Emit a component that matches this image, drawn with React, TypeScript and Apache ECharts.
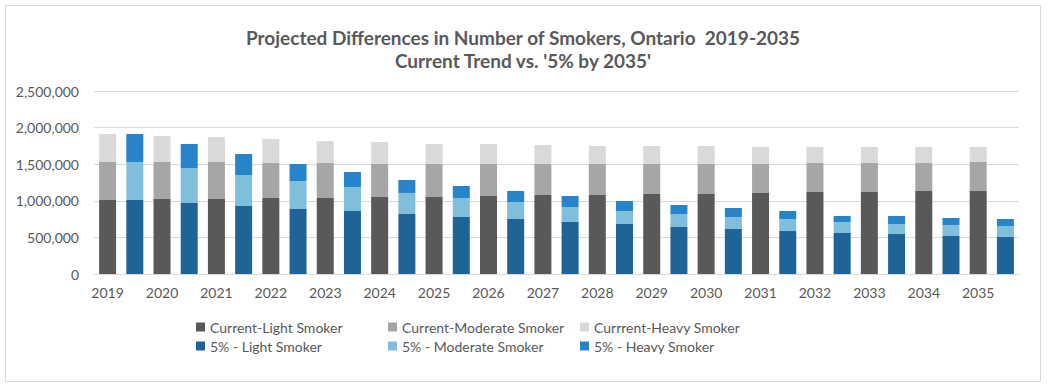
import React, { useEffect, useRef } from "react";
import * as echarts from "echarts";

const years = ["2019","2020","2021","2022","2023","2024","2025","2026","2027","2028","2029","2030","2031","2032","2033","2034","2035"];
const curLight = [1011000,1025000,1025000,1038000,1038000,1052000,1052000,1066000,1079000,1079000,1093000,1093000,1107000,1120000,1120000,1134000,1134000];
const curModerate = [519000,505000,505000,478000,478000,451000,451000,437000,424000,424000,410000,410000,396000,396000,396000,382000,396000];
const curHeavy = [383000,355000,342000,328000,300000,300000,273000,273000,259000,246000,246000,246000,232000,219000,219000,219000,205000];
const pctLight = [1011000,970000,929000,888000,861000,820000,779000,751000,710000,683000,642000,615000,587000,560000,546000,519000,505000];
const pctModerate = [519000,478000,423000,382000,328000,287000,259000,233000,205000,178000,178000,164000,164000,150000,137000,150000,151000];
const pctHeavy = [383000,328000,287000,233000,204000,177000,164000,150000,151000,136000,123000,123000,110000,82000,109000,96000,95000];
const yTicks = { min: 0, max: 2500000, interval: 500000 };

const seriesNames = [
  "Current-Light Smoker",
  "Current-Moderate Smoker",
  "Currrent-Heavy Smoker",
  "5% - Light Smoker",
  "5% - Moderate Smoker",
  "5% - Heavy Smoker",
];
const colors = ["#595959", "#a6a6a6", "#d9d9d9", "#1f6397", "#7fbfdb", "#2784c8"];

const FONT = "Lato, 'Noto Sans', sans-serif";
const TXT = "#595959";

export default function App() {
  const ref = useRef<HTMLDivElement>(null);
  useEffect(() => {
    if (!ref.current) return;
    const chart = echarts.init(ref.current, null, { renderer: "svg" });
    const cats: string[] = [];
    years.forEach((y) => {
      cats.push(y);
      cats.push("");
    });
    const spread = (arr: number[], offset: number) => {
      const out: (number | string)[] = [];
      arr.forEach((v) => {
        if (offset === 0) {
          out.push(v);
          out.push("-");
        } else {
          out.push("-");
          out.push(v);
        }
      });
      return out;
    };
    const dataSets = [
      spread(curLight, 0),
      spread(curModerate, 0),
      spread(curHeavy, 0),
      spread(pctLight, 1),
      spread(pctModerate, 1),
      spread(pctHeavy, 1),
    ];
    const legendPos = [
      { left: 196, top: 320 },
      { left: 388, top: 320 },
      { left: 580, top: 320 },
      { left: 196, top: 339 },
      { left: 388, top: 339 },
      { left: 580, top: 339 },
    ];
    chart.setOption({
      animation: false,
      textStyle: { fontFamily: FONT },
      grid: { left: 94, right: 35, top: 91, bottom: 113 },
      legend: seriesNames.map((n, i) => ({
        data: [n],
        left: legendPos[i].left,
        top: legendPos[i].top,
        padding: 0,
        icon: "rect",
        itemWidth: 9,
        itemHeight: 9,
        selectedMode: false,
        textStyle: { color: TXT, fontSize: 14, fontFamily: FONT },
      })),
      graphic: [
        {
          type: "rect",
          shape: { x: 5.5, y: 5.5, width: 1035, height: 376 },
          style: { fill: "none", stroke: "#d9d9d9", lineWidth: 1 },
          silent: true,
        },
        {
          type: "text",
          x: 523,
          y: 37,
          style: {
            text: "Projected Differences in Number of Smokers, Ontario  2019-2035",
            fill: TXT,
            font: `bold 19px ${FONT}`,
            textAlign: "center",
            textVerticalAlign: "middle",
          },
        },
        {
          type: "text",
          x: 523,
          y: 60,
          style: {
            text: "Current Trend vs. '5% by 2035'",
            fill: TXT,
            font: `bold 19px ${FONT}`,
            textAlign: "center",
            textVerticalAlign: "middle",
          },
        },
      ],
      xAxis: {
        type: "category",
        data: cats,
        axisTick: { show: false },
        axisLine: { lineStyle: { color: "#d9d9d9" } },
        axisLabel: { interval: 0, color: TXT, fontSize: 14, margin: 11, fontFamily: FONT },
      },
      yAxis: {
        type: "value",
        min: yTicks.min,
        max: yTicks.max,
        interval: yTicks.interval,
        axisLine: { show: false },
        axisTick: { show: false },
        splitLine: { lineStyle: { color: "#d9d9d9" } },
        axisLabel: {
          color: TXT,
          fontSize: 14,
          margin: 15,
          fontFamily: FONT,
          formatter: (v: number) => v.toLocaleString("en-US"),
        },
      },
      series: seriesNames.map((n, i) => ({
        name: n,
        type: "bar",
        stack: "all",
        barWidth: 17,
        itemStyle: { color: colors[i] },
        data: dataSets[i],
      })),
    });
    return () => chart.dispose();
  }, []);
  return (
    <div
      ref={ref}
      style={{ position: "absolute", left: 0, top: 0, width: 1054, height: 387, background: "#fff" }}
    />
  );
}
